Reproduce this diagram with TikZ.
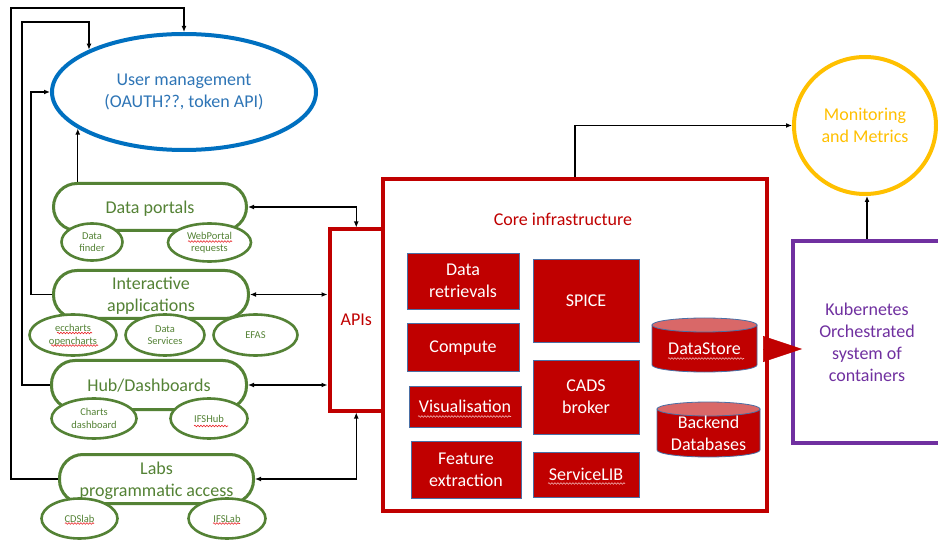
\documentclass[tikz,border=0pt]{standalone}
\usepackage{fontspec}
\setmainfont{Carlito}
\usetikzlibrary{arrows.meta,shapes.geometric,decorations.pathmorphing}

\definecolor{umblue}{HTML}{0070C0}
\definecolor{umtext}{HTML}{2E75B6}
\definecolor{dgreen}{HTML}{548235}
\definecolor{cred}{HTML}{C00000}
\definecolor{capred}{HTML}{D96868}
\definecolor{boxedge}{HTML}{4A6FA5}
\definecolor{mgold}{HTML}{FFC000}
\definecolor{kpurple}{HTML}{7030A0}
\definecolor{spellred}{HTML}{E8282B}
\definecolor{spellpale}{HTML}{F2B4B4}

\newcommand\bigtxt{\fontsize{18}{22}\selectfont}
\newcommand\smalltxt{\fontsize{10.5}{12.5}\selectfont}

\tikzset{
  pill/.style={rectangle, draw=dgreen, line width=3pt, fill=white, rounded corners=23.5pt,
    text=dgreen, font=\bigtxt, align=center, inner sep=0pt, text depth=0pt},
  bubble/.style={ellipse, draw=dgreen, line width=2.6pt, fill=white,
    text=dgreen, font=\smalltxt, align=center, inner sep=0pt},
  corebox/.style={rectangle, draw=boxedge, line width=0.8pt, fill=cred,
    text=white, font=\bigtxt, align=center, inner sep=0pt, text depth=0pt},
  redframe/.style={rectangle, draw=cred, line width=4pt, inner sep=0pt},
  conn/.style={draw=black, line width=1.4pt, -{Latex[length=6pt,width=5pt]}},
  bidir/.style={draw=black, line width=1.4pt, {Latex[length=6pt,width=5pt]}-{Latex[length=6pt,width=5pt]}},
  bigtip/.style={draw=cred, fill=cred, line width=0.5pt, -{Triangle[length=39pt,width=26pt]}},
  wavemark/.style={draw=spellred, line width=0.6pt,
    decorate, decoration={snake, segment length=3pt, amplitude=0.8pt}},
  wavepale/.style={wavemark, draw=spellpale},
}

\begin{document}
\begin{tikzpicture}[x=1pt,y=-1pt]
\fill[white] (0,0) rectangle (938,540);
\useasboundingbox (0,0) rectangle (938,540);

% user management
\node[ellipse, draw=umblue, line width=4pt, fill=white, minimum width=264pt, minimum height=116pt,
      text=umtext, font=\bigtxt, align=center, inner sep=0pt]
  (user) at (184,92) {User management\\(OAUTH??, token API)};

% client groups
\node[pill, minimum width=193pt, minimum height=47pt] (portals) at (150,207) {Data portals};
\node[bubble, minimum width=61pt, minimum height=37pt] (finder) at (92,242) {Data\\finder};
\node[bubble, minimum width=83pt, minimum height=38pt] (webportal) at (209.5,242.5) {WebPortal\\requests};

\node[pill, minimum width=195pt, minimum height=48pt] (inter) at (151,294.5) {Interactive\\applications};
\node[bubble, minimum width=87pt, minimum height=41pt] (ecch) at (73,335) {eccharts\\opencharts};
\node[bubble, minimum width=79pt, minimum height=41pt] (dserv) at (165,335) {Data\\Services};
\node[bubble, minimum width=84pt, minimum height=41pt] (efas) at (255.5,335) {EFAS};

\node[pill, minimum width=195pt, minimum height=49pt] (hub) at (149,385) {Hub/Dashboards};
\node[bubble, minimum width=85pt, minimum height=40pt] (charts) at (94,418.5) {Charts\\dashboard};
\node[bubble, minimum width=77pt, minimum height=40pt] (ifshub) at (209,418.5) {IFSHub};

\node[pill, minimum width=194pt, minimum height=49pt] (labs) at (156.5,479) {Labs\\programmatic access};
\node[bubble, minimum width=76pt, minimum height=40pt] (cdslab) at (79.5,518.5) {CDSlab};
\node[bubble, minimum width=77pt, minimum height=40pt] (ifslab) at (227,518.5) {IFSLab};

% core infrastructure and API layer
\node[redframe, minimum width=384pt, minimum height=331pt] (core) at (575,345) {};
\node[redframe, fill=white, minimum width=53.5pt, minimum height=181pt,
      text=cred, font=\bigtxt] (apis) at (356.25,320) {APIs};
\node[text=cred, font=\bigtxt] (coretitle) at (563,219) {Core infrastructure};

\node[corebox, minimum width=112pt, minimum height=56pt] (retr) at (463,281) {Data\\retrievals};
\node[corebox, minimum width=112pt, minimum height=48pt] (compute) at (463,347) {Compute};
\node[corebox, minimum width=112pt, minimum height=41pt] (visual) at (465,406.5) {Visualisation};
\node[corebox, minimum width=110pt, minimum height=57pt] (feature) at (466,469.5) {Feature\\extraction};
\node[corebox, minimum width=106pt, minimum height=83pt] (spice) at (586,300.5) {SPICE};
\node[corebox, minimum width=106pt, minimum height=74pt] (cads) at (586,397) {CADS\\broker};
\node[corebox, minimum width=106pt, minimum height=45pt] (slib) at (586,474.5) {ServiceLIB};

% storage cylinders
\filldraw[fill=cred, draw=boxedge, line width=0.8pt]
  (652,325) -- (652,365) arc[start angle=180, end angle=360, x radius=52.5pt, y radius=7pt] -- (757,325) -- cycle;
\filldraw[fill=capred, draw=boxedge, line width=0.8pt] (704.5,325) ellipse[x radius=52.5pt, y radius=7pt];
\node[text=white, font=\bigtxt] (store) at (704.5,349) {DataStore};

\filldraw[fill=cred, draw=boxedge, line width=0.8pt]
  (657,409) -- (657,450) arc[start angle=180, end angle=360, x radius=51.5pt, y radius=7pt] -- (760,409) -- cycle;
\filldraw[fill=capred, draw=boxedge, line width=0.8pt] (708.5,409) ellipse[x radius=51.5pt, y radius=7pt];
\node[text=white, font=\bigtxt, align=center] (backend) at (708.5,433.5) {Backend\\Databases};

% proofing marks under unknown words
\draw[wavemark] (188,241.5) -- (232,241.5);
\draw[wavemark] (57,333) -- (92,333);
\draw[wavemark] (51,345.5) -- (98,345.5);
\draw[wavemark] (194,426) -- (228,426);
\draw[wavemark] (65,523.5) -- (94,523.5);
\draw[wavemark] (213,523.5) -- (240,523.5);
\draw[wavepale] (418,416.5) -- (511,416.5);
\draw[wavepale] (548,483.5) -- (625,483.5);
\draw[wavepale] (668,358.5) -- (744,358.5);

% monitoring and orchestration
\node[ellipse, draw=mgold, line width=4pt, fill=white, minimum width=142pt, minimum height=137pt,
      text=mgold, font=\bigtxt, align=center, inner sep=0pt] (mon) at (865,125.5) {Monitoring\\and Metrics};
\node[rectangle, draw=kpurple, line width=4pt, minimum width=148pt, minimum height=202pt,
      text=kpurple, font=\bigtxt, align=center, inner sep=0pt] (kube) at (867,342) {Kubernetes\\Orchestrated\\system of\\containers};

% connectors to user management
\draw[conn] (labs.west) -| (11,8) -| (user.north);
\draw[conn] (hub.west) -| (22,22) -| (user.156);
\draw[conn] (inter.west) -| (31,92) -- (user.west);
\draw[conn] (portals.north -| user.199) -- (user.199);

% connectors to the API layer
\draw[bidir] (portals.east) -| (apis.north);
\draw[bidir] (inter.east) -- (apis.west |- inter.east);
\draw[bidir] (hub.east) -- (apis.west |- hub.east);
\draw[bidir] (labs.east) -| (apis.south);

% monitoring feeds
\draw[conn] (core.north) |- (mon.west);
\draw[conn] (kube.north) -- (kube.north |- mon.south);

% core runs on kubernetes
\draw[bigtip] ([xshift=-6pt]core.east |- store) -- ([xshift=11pt]kube.west |- store);
\end{tikzpicture}
\end{document}
